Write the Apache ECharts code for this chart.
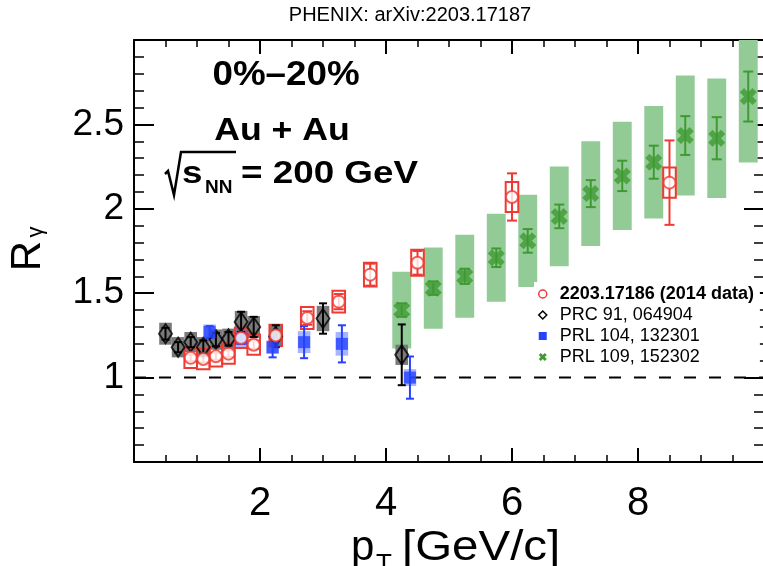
<!DOCTYPE html>
<html>
<head>
<meta charset="utf-8">
<script src="https://cdn.jsdelivr.net/npm/echarts@6/dist/echarts.min.js"></script>
<style>
  html, body { margin: 0; padding: 0; background: #fff; }
  #chart { width: 763px; height: 566px; }
</style>
</head>
<body>
<div id="chart"></div>
<script>
// Direct-photon R_gamma vs pT, Au+Au 0-20%, sqrt(sNN) = 200 GeV

// 2203.17186 (2014 data)
const ptNew   = [0.9, 1.1, 1.3, 1.5, 1.7, 1.9, 2.25, 2.75, 3.25, 3.75, 4.5, 6.0, 8.5];
const rNew    = [1.117, 1.11, 1.126, 1.142, 1.235, 1.195, 1.25, 1.353, 1.45, 1.61, 1.68, 2.07, 2.155];
const statNew = [0.02, 0.02, 0.02, 0.02, 0.025, 0.025, 0.03, 0.04, 0.045, 0.065, 0.07, 0.14, 0.25];
const sysNew  = [0.06, 0.06, 0.06, 0.06, 0.06, 0.06, 0.063, 0.065, 0.065, 0.07, 0.077, 0.089, 0.089];

// PRC 91, 064904
const ptPrc   = [0.5, 0.7, 0.9, 1.1, 1.3, 1.5, 1.7, 1.9, 2.25, 3.0, 4.25];
const rPrc    = [1.26, 1.18, 1.21, 1.18, 1.225, 1.23, 1.33, 1.30, 1.245, 1.35, 1.135];
const statPrc = [0.035, 0.03, 0.03, 0.04, 0.04, 0.04, 0.06, 0.06, 0.065, 0.09, 0.18];
const sysPrc  = [0.065, 0.06, 0.06, 0.06, 0.06, 0.06, 0.065, 0.065, 0.065, 0.075, 0.06];

// PRL 104, 132301
const ptPrl104   = [1.2, 1.7, 2.2, 2.7, 3.3, 4.38];
const rPrl104    = [1.27, 1.23, 1.18, 1.21, 1.20, 1.0];
const statPrl104 = [0.035, 0.03, 0.06, 0.095, 0.11, 0.125];
const sysPrl104  = [0.045, 0.05, 0.04, 0.065, 0.07, 0.05];

// PRL 109, 152302
const ptPrl109   = [4.25, 4.75, 5.25, 5.75, 6.25, 6.75, 7.25, 7.75, 8.25, 8.75, 9.25, 9.75];
const rPrl109    = [1.40, 1.53, 1.60, 1.71, 1.81, 1.955, 2.09, 2.195, 2.276, 2.434, 2.418, 2.665];
const statPrl109 = [0.04, 0.04, 0.045, 0.055, 0.07, 0.07, 0.08, 0.09, 0.098, 0.115, 0.125, 0.148];
const sysPrl109  = [0.227, 0.24, 0.246, 0.26, 0.273, 0.295, 0.31, 0.32, 0.333, 0.355, 0.354, 0.39];

const names = ['2203.17186 (2014 data)', 'PRC 91, 064904', 'PRL 104, 132301', 'PRL 109, 152302'];

const RED = '#ee3a32';
const BLUE = '#2442ff';
const GREEN = '#3f9a31';
const GREEN_BOX = '#93cb97';
const GRAY_BOX = '#7a7a7a';
const BLUE_BOX = 'rgba(60, 90, 255, 0.45)';
const FONT = '"Liberation Sans", Arial, Helvetica, sans-serif';
const XMARK = 'path://M0,2.5 L2.5,0 L5,2.5 L7.5,0 L10,2.5 L7.5,5 L10,7.5 L7.5,10 L5,7.5 L2.5,10 L0,7.5 L2.5,5 Z';

function rows(pt, val, err) {
  return pt.map((x, i) => [x, val[i], err[i]]);
}

// systematic-uncertainty boxes
function boxSeries(name, pt, val, sys, halfW, style) {
  return {
    type: 'custom', name, z: 2, silent: true,
    data: rows(pt, val, sys),
    encode: { x: 0, y: 1 },
    renderItem(params, api) {
      const x = api.value(0), y = api.value(1), e = api.value(2);
      const a = api.coord([x - halfW, y + e]);
      const b = api.coord([x + halfW, y - e]);
      const cs = params.coordSys;
      const shape = echarts.graphic.clipRectByRect(
        { x: a[0], y: a[1], width: b[0] - a[0], height: b[1] - a[1] },
        { x: cs.x, y: cs.y, width: cs.width, height: cs.height });
      return shape && { type: 'rect', shape, style };
    }
  };
}

// statistical error bars with caps
function errSeries(name, pt, val, stat, cap, color) {
  return {
    type: 'custom', name, z: 3, silent: true,
    data: rows(pt, val, stat),
    encode: { x: 0, y: 1 },
    renderItem(params, api) {
      const x = api.value(0), y = api.value(1), e = api.value(2);
      const hi = api.coord([x, y + e]);
      const lo = api.coord([x, y - e]);
      const st = { stroke: color, lineWidth: 2 };
      return {
        type: 'group',
        children: [
          { type: 'line', shape: { x1: hi[0], y1: hi[1], x2: lo[0], y2: lo[1] }, style: st },
          { type: 'line', shape: { x1: hi[0] - cap, y1: hi[1], x2: hi[0] + cap, y2: hi[1] }, style: st },
          { type: 'line', shape: { x1: lo[0] - cap, y1: lo[1], x2: lo[0] + cap, y2: lo[1] }, style: st }
        ]
      };
    }
  };
}

function markerSeries(name, pt, val, symbol, size, itemStyle) {
  return {
    type: 'scatter', name, z: 4, silent: true,
    data: pt.map((x, i) => [x, val[i]]),
    symbol, symbolSize: size, itemStyle
  };
}

const tickLine = { color: '#000', width: 2 };
const minorLine = { color: '#000', width: 1.5 };

const xBase = {
  type: 'value', min: 0, max: 10, interval: 2,
  axisLine: { show: true, onZero: false, lineStyle: tickLine },
  axisTick: { show: true, inside: true, length: 14, lineStyle: tickLine },
  minorTick: { show: true, splitNumber: 4, length: 7, lineStyle: minorLine },
  splitLine: { show: false }
};
const yBase = {
  type: 'value', min: 0.5, max: 3.0, interval: 0.5,
  axisLine: { show: true, onZero: false, lineStyle: tickLine },
  axisTick: { show: true, inside: true, length: 20, lineStyle: tickLine },
  minorTick: { show: true, splitNumber: 5, length: 10, lineStyle: minorLine },
  splitLine: { show: false }
};

const chart = echarts.init(document.getElementById('chart'), null, { renderer: 'canvas' });

chart.setOption({
  animation: false,
  backgroundColor: '#fff',
  grid: { left: 134, top: 40, width: 630, height: 422, containLabel: false, outerBoundsMode: 'none' },
  xAxis: [
    Object.assign({}, xBase, {
      position: 'bottom',
      axisLabel: { show: true, fontSize: 40, color: '#000', fontFamily: FONT, margin: 22,
                   showMinLabel: false, showMaxLabel: false }
    }),
    Object.assign({}, xBase, { position: 'top', axisLabel: { show: false } })
  ],
  yAxis: [
    Object.assign({}, yBase, {
      position: 'left',
      axisLabel: { show: true, fontSize: 37, color: '#000', fontFamily: FONT, margin: 10,
                   showMinLabel: false, showMaxLabel: false }
    }),
    Object.assign({}, yBase, { position: 'right', axisLabel: { show: false } })
  ],
  legend: {
    orient: 'vertical', left: 534, top: 282,
    itemWidth: 8, itemHeight: 8, itemGap: 3,
    padding: [3, 6, 3, 4],
    backgroundColor: '#fff',
    selectedMode: false,
    textStyle: { fontSize: 18, color: '#000', fontFamily: FONT, lineHeight: 18, padding: [0, 0, 0, 8],
                 rich: { b: { fontSize: 18, fontWeight: 'bold', fontFamily: FONT, color: '#000' } } },
    formatter: n => (n === names[0] ? '{b|' + n + '}' : n),
    data: [
      { name: names[0], icon: 'circle', itemStyle: { color: '#fff', borderColor: RED, borderWidth: 1.5 } },
      { name: names[1], icon: 'diamond', itemStyle: { color: '#fff', borderColor: '#000', borderWidth: 1.5 } },
      { name: names[2], icon: 'rect', itemStyle: { color: BLUE, borderWidth: 0 } },
      { name: names[3], icon: XMARK, itemStyle: { color: GREEN, borderWidth: 0 } }
    ]
  },
  graphic: [
    { type: 'text', x: 410, y: 15,
      style: { text: 'PHENIX: arXiv:2203.17187', font: '20px ' + FONT, fill: '#000',
               align: 'center', verticalAlign: 'middle' } },
    { type: 'text', x: 286, y: 75, scaleX: 1.05,
      style: { text: '0%\u201320%', font: 'bold 35px ' + FONT, fill: '#000', align: 'center', verticalAlign: 'middle' } },
    { type: 'text', x: 282, y: 131, scaleX: 1.15,
      style: { text: 'Au + Au', font: 'bold 31px ' + FONT, fill: '#000', align: 'center', verticalAlign: 'middle' } },
    { type: 'polyline', shape: { points: [[165, 174], [168, 171], [174, 195], [181, 152], [236, 152]] },
      style: { stroke: '#000', lineWidth: 2.5, fill: 'none' } },
    { type: 'text', x: 182, y: 174, scaleX: 1.15,
      style: { text: 's', font: 'bold 32px ' + FONT, fill: '#000', align: 'left', verticalAlign: 'middle' } },
    { type: 'text', x: 205, y: 188,
      style: { text: 'NN', font: 'bold 19px ' + FONT, fill: '#000', align: 'left', verticalAlign: 'middle' } },
    { type: 'text', x: 241, y: 174, scaleX: 1.15,
      style: { text: '= 200 GeV', font: 'bold 32px ' + FONT, fill: '#000', align: 'left', verticalAlign: 'middle' } },
    // y-axis title R_gamma
    { type: 'text', x: 28, y: 256, rotation: Math.PI / 2,
      style: { text: 'R', font: '42px ' + FONT, fill: '#000', align: 'center', verticalAlign: 'middle' } },
    { type: 'text', x: 36, y: 232, rotation: Math.PI / 2,
      style: { text: '\u03b3', font: '22px ' + FONT, fill: '#000', align: 'center', verticalAlign: 'middle' } },
    // x-axis title p_T [GeV/c]
    { type: 'text', x: 351, y: 548,
      style: { text: 'p', font: '42px ' + FONT, fill: '#000', align: 'left', verticalAlign: 'middle' } },
    { type: 'text', x: 376, y: 565,
      style: { text: 'T', font: '26px ' + FONT, fill: '#000', align: 'left', verticalAlign: 'middle' } },
    { type: 'text', x: 402, y: 548, scaleX: 1.13,
      style: { text: '[GeV/c]', font: '42px ' + FONT, fill: '#000', align: 'left', verticalAlign: 'middle' } }
  ],
  series: [
    // reference line at unity
    { type: 'line', name: 'unity', data: [[0, 1], [10, 1]], symbol: 'none', silent: true, z: 1,
      lineStyle: { color: '#000', width: 2, type: [12, 13] } },

    boxSeries(names[3], ptPrl109, rPrl109, sysPrl109, 0.15, { fill: GREEN_BOX }),
    boxSeries(names[1], ptPrc, rPrc, sysPrc, 0.1, { fill: GRAY_BOX }),
    boxSeries(names[2], ptPrl104, rPrl104, sysPrl104, 0.1, { fill: BLUE_BOX }),
    boxSeries(names[0], ptNew, rNew, sysNew, 0.1, { fill: 'none', stroke: RED, lineWidth: 2 }),

    errSeries(names[3], ptPrl109, rPrl109, statPrl109, 5, GREEN),
    errSeries(names[1], ptPrc, rPrc, statPrc, 4, '#000'),
    errSeries(names[2], ptPrl104, rPrl104, statPrl104, 4, BLUE),
    errSeries(names[0], ptNew, rNew, statNew, 5, RED),

    markerSeries(names[3], ptPrl109, rPrl109, XMARK, 17, { color: GREEN }),
    markerSeries(names[1], ptPrc, rPrc, 'diamond', [13, 19], { color: 'rgba(0,0,0,0)', borderColor: '#000', borderWidth: 2 }),
    markerSeries(names[2], ptPrl104, rPrl104, 'rect', 12, { color: BLUE }),
    markerSeries(names[0], ptNew, rNew, 'circle', 12, { color: '#fff', borderColor: RED, borderWidth: 2 })
  ]
});
</script>
</body>
</html>
